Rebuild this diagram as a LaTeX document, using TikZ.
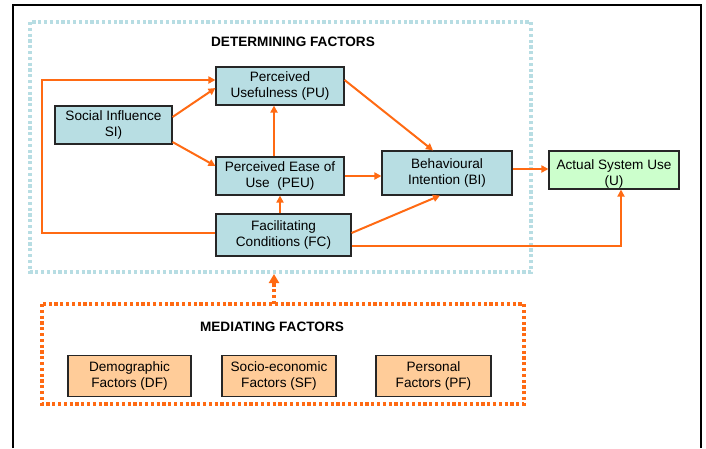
\documentclass[tikz,border=0pt]{standalone}
\usepackage{fontspec}
\setmainfont{Liberation Sans}
\usepackage{tikz}
\usetikzlibrary{arrows.meta,positioning}
\definecolor{tealfill}{HTML}{B8DEE3}
\definecolor{greenfill}{HTML}{CCFFCC}
\definecolor{peachfill}{HTML}{FFCC99}
\definecolor{arroworange}{HTML}{FF6A13}
\definecolor{frameblue}{HTML}{B7DDE3}
\tikzset{
  factorbox/.style={
    draw=black!85,
    fill=tealfill,
    align=center,
    inner sep=2pt,
    line width=1.1pt,
    font=\fontsize{13.6}{16}\selectfont
  },
  outcomebox/.style={
    factorbox,
    fill=greenfill
  },
  mediatorbox/.style={
    factorbox,
    fill=peachfill
  },
  flowarrow/.style={
    -{Triangle[length=7pt,width=7pt]},
    draw=arroworange,
    line width=2pt
  },
  groupframe/.style={
    line width=3.4pt,
    dash pattern=on 3.2pt off 2.6pt
  },
  grouptitle/.style={
    font=\fontsize{13.6}{16}\selectfont\bfseries
  }
}

\begin{document}
\begin{tikzpicture}[x=1pt,y=-1pt]
  \useasboundingbox (0,0) rectangle (706,448);
  % outer frame
  \draw[line width=2.2pt] (13,448) -- (13,5) -- (701,5) -- (701,448);

  % groups
  \draw[groupframe, draw=frameblue] (30,22) rectangle (531,272);
  \draw[groupframe, draw=arroworange] (42,304) rectangle (524,404);
  \node[grouptitle] (dettitle) at (293,42) {DETERMINING FACTORS};
  \node[grouptitle] (medtitle) at (272,327) {MEDIATING FACTORS};

  % determining factors
  \node[factorbox, minimum width=117pt, minimum height=38pt] (si) at (113.5,125) {Social Influence\\SI)};
  \node[factorbox, minimum width=128pt, minimum height=38pt] (pu) at (280,86) {Perceived\\Usefulness (PU)};
  \node[factorbox, minimum width=128pt, minimum height=38pt] (peu) at (280,176) {Perceived Ease of\\Use~~(PEU)};
  \node[factorbox, minimum width=135pt, minimum height=42pt] (fc) at (283.5,235) {Facilitating\\Conditions (FC)};
  \node[factorbox, minimum width=130pt, minimum height=44pt] (bi) at (447,173) {Behavioural\\Intention (BI)};
  \node[outcomebox, minimum width=130pt, minimum height=38pt, inner ysep=0pt] (use) at (614,170) {\rule{0pt}{18pt}Actual System Use\\(U)};

  % mediating factors
  \node[mediatorbox, minimum width=123pt, minimum height=41pt] (df) at (129.5,376) {Demographic\\Factors (DF)};
  \node[mediatorbox, minimum width=114pt, minimum height=41pt] (sf) at (279,376) {Socio-economic\\Factors (SF)};
  \node[mediatorbox, minimum width=115pt, minimum height=41pt] (pf) at (433.5,376) {Personal\\Factors (PF)};

  % connectors
  \coordinate (medtop) at (274,304);
  \coordinate (dettop) at (274,274);
  \draw[flowarrow] (fc.west |- 0,233) -| (42,80) -- (pu.west |- 0,80);
  \draw[flowarrow] (si.east |- 0,117) -- (pu.west |- 0,88);
  \draw[flowarrow] (si.east |- 0,142) -- (peu.west |- 0,166);
  \draw[flowarrow] (peu.north -| 274,0) -- (pu.south -| 274,0);
  \draw[flowarrow] (fc.north -| 280,0) -- (peu.south -| 280,0);
  \draw[flowarrow] (pu.east |- 0,80) -- (bi.north -| 433,0);
  \draw[flowarrow] (peu.east) -- (bi.west |- peu.east);
  \draw[flowarrow] (fc.east |- 0,233) -- (bi.south -| 440,0);
  \draw[flowarrow] (fc.east |- 0,246) -| (use.south -| 621,0);
  \draw[flowarrow] (bi.east |- 0,169) -- (use.west |- 0,169);
  \draw[groupframe, draw=arroworange, -{Triangle[length=9pt,width=10pt]}] (medtop) -- (dettop);
\end{tikzpicture}
\end{document}
